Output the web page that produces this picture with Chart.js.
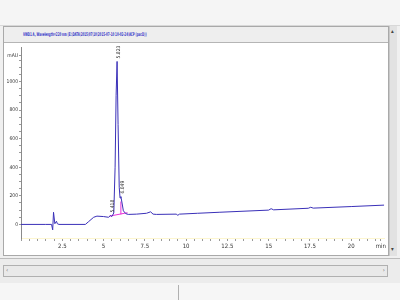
<!DOCTYPE html>
<html>
<head>
<meta charset="utf-8">
<script src="https://cdn.jsdelivr.net/npm/chart.js@4/dist/chart.umd.min.js"></script>
<style>
  html, body { margin: 0; padding: 0; }
  body { width: 400px; height: 300px; background: #f0f0f0; position: relative; overflow: hidden; font-family: "DejaVu Sans Condensed", "DejaVu Sans", sans-serif; }
  #topband { position: absolute; left: 0; top: 0; width: 400px; height: 25px; background: #f5f5f5; border-bottom: 1px solid #d8d8d8; }
  #panel { position: absolute; left: 3px; top: 26px; width: 384px; height: 228px; border: 1px solid #a9a9a9; background: #fff; }
  #header { position: absolute; left: 0; top: 0; width: 384px; height: 15px; background: #eeeeee; border-bottom: 1px solid #b5b5b5; }
  #title { position: absolute; left: 19px; top: 4px; font-size: 5px; font-weight: bold; color: #3535c8; white-space: nowrap; transform: scaleX(0.57); transform-origin: left top; }
  #wrap { position: absolute; left: 0; top: 16px; width: 384px; height: 212px; }
  #vscroll { position: absolute; left: 389px; top: 26px; width: 7px; height: 230px; background: #e2e2e2; border-left: 1px solid #c8c8c8; }
  #vscroll span { position: absolute; left: 1px; font-size: 6px; color: #444; }
  #hbar { position: absolute; left: 0; top: 258px; width: 400px; height: 24px; border-top: 1px solid #bcbcbc; border-bottom: 1px solid #9c9c9c; background: #ececec; }
  #hscroll { position: absolute; left: 3px; top: 6px; width: 383px; height: 10px; border: 1px solid #b0b0b0; background: #e9e9e9; }
  #hscroll span { position: absolute; top: 0; font-size: 6px; color: #555; }
  #status { position: absolute; left: 0; top: 283px; width: 400px; height: 17px; background: #f6f6f6; }
  #status div { position: absolute; left: 178px; top: 2px; width: 1px; height: 15px; background: #b0b0b0; }
</style>
</head>
<body>
<div id="topband"></div>
<div id="panel">
  <div id="header"><div id="title">VWD1 A, Wavelength=220 nm (E:\DATA\2015\07\10\2015-07-10 10-02-24\ACP (par.D))</div></div>
  <div id="wrap"><canvas id="myChart" width="384" height="212"></canvas></div>
</div>
<div id="vscroll"><span style="top:1px">&#9652;</span><span style="top:219px">&#9662;</span></div>
<div id="hbar"><div id="hscroll"><span style="left:2px">&#8249;</span><span style="right:2px">&#8250;</span></div></div>
<div id="status"><div></div></div>
<script>
// signal VWD1 A (min / mAU)
const times = [0, 1.5, 1.85, 1.92, 1.97, 2.05, 2.15, 2.2, 2.3, 3.9, 4.1, 4.4, 4.6, 5.0, 5.3, 5.42, 5.5, 5.62, 5.7, 5.76, 5.82, 5.88, 5.95, 6.0, 6.05, 6.12, 6.2, 6.35, 6.5, 7.0, 7.6, 7.85, 8.0, 8.2, 9.4, 9.5, 9.6, 10.7, 12.0, 15.0, 15.15, 15.3, 17.4, 17.55, 17.7, 20.0, 22.0];
const mAU = [0, 0, 0, -38, 85, 5, 22, 5, 0, 0, 20, 50, 58, 55, 50, 62, 55, 80, 400, 900, 1140, 700, 260, 185, 195, 150, 95, 75, 70, 72, 78, 88, 72, 70, 72, 64, 72, 78, 85, 100, 110, 102, 113, 120, 114, 125, 135];

// ligne de base d'intégration
const baseTimes = [5.36, 6.45];
const baseValues = [58, 82];
const dropTimes = [6.05, 6.05];
const dropValues = [70, 160];

// temps de rétention annotés
const peakTimes = [5.418, 5.823, 6.049];
const peakHeights = [62, 1140, 195];

const xLabels = [2.5, 5, 7.5, 10, 12.5, 15, 17.5, 20];
const yLabels = [0, 200, 400, 600, 800, 1000];

function toPoints(xs, ys) {
  return xs.map((x, i) => ({ x: x, y: ys[i] }));
}

const peakLabels = {
  id: "peakLabels",
  afterDatasetsDraw(chart) {
    const c = chart.ctx;
    const xs = chart.scales.x;
    const ys = chart.scales.y;
    c.save();
    c.font = "5px 'DejaVu Sans Condensed'";
    c.fillStyle = "#333";
    peakTimes.forEach((t, i) => {
      const px = xs.getPixelForValue(t);
      const py = ys.getPixelForValue(peakHeights[i]);
      c.save();
      c.translate(px + 2, py - 3);
      c.rotate(-Math.PI / 2);
      c.textBaseline = "middle";
      c.fillText(t.toFixed(3), 0, 0);
      c.restore();
    });
    c.restore();
  }
};

const ctx = document.getElementById("myChart");
const chart = new Chart(ctx, {
  type: "line",
  data: {
    datasets: [
      {
        data: toPoints(times, mAU),
        borderColor: "#3a30b8",
        borderWidth: 1,
        pointRadius: 0,
        tension: 0
      },
      {
        data: toPoints(baseTimes, baseValues),
        borderColor: "#e830d8",
        borderWidth: 1,
        pointRadius: 0
      },
      {
        data: toPoints(dropTimes, dropValues),
        borderColor: "#e830d8",
        borderWidth: 1,
        pointRadius: 0
      }
    ]
  },
  plugins: [peakLabels],
  options: {
    responsive: false,
    animation: false,
    layout: { padding: { top: 1, right: 0, left: 0, bottom: 0 } },
    scales: {
      x: {
        type: "linear",
        min: 0,
        max: 22,
        afterFit: (s) => { s.height = 17; },
        afterBuildTicks: (s) => {
          const t = [];
          for (let v = 0; v <= 21.5; v += 0.5) t.push({ value: v });
          t.push({ value: 21.8 });
          s.ticks = t;
        },
        grid: { drawOnChartArea: false, tickLength: 3, color: "#9a9a9a" },
        border: { color: "#fdf6d0" },
        ticks: {
          autoSkip: false,
          maxRotation: 0,
          padding: 2,
          color: "#333",
          font: { size: 6, family: "DejaVu Sans Condensed" },
          callback: (v) => (v === 21.8 ? "min" : xLabels.includes(v) ? String(v) : "")
        }
      },
      y: {
        min: -95,
        max: 1241,
        afterFit: (s) => { s.width = 17; },
        afterBuildTicks: (s) => {
          const t = [];
          for (let v = 0; v <= 1150; v += 50) t.push({ value: v });
          t.push({ value: 1180 });
          s.ticks = t;
        },
        grid: { drawOnChartArea: false, tickLength: 2, color: "#9a9a9a" },
        border: { color: "#8a8a8a" },
        ticks: {
          autoSkip: false,
          padding: 1,
          color: "#333",
          font: { size: 5, family: "DejaVu Sans Condensed" },
          callback: (v) => (v === 1180 ? "mAU" : yLabels.includes(v) ? String(v) : "")
        }
      }
    },
    plugins: {
      legend: false,
      tooltip: { enabled: false }
    }
  }
});
</script>
</body>
</html>
